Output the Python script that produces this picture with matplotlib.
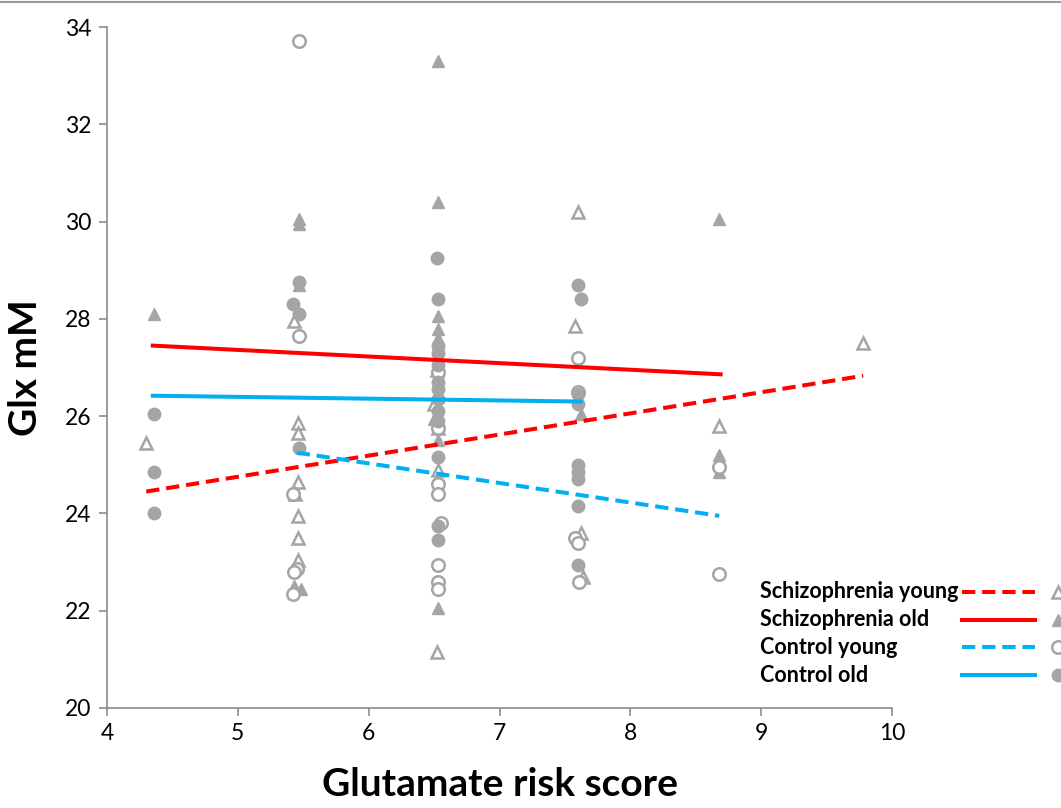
import matplotlib
matplotlib.use("Agg")
import matplotlib.pyplot as plt
from matplotlib.lines import Line2D

# ---- data ----
sz_young_x = [4.30, 5.43, 5.46, 5.46, 5.46, 5.44, 5.46, 5.46, 5.46,
              6.52, 6.50, 6.53, 6.53, 6.52, 7.60, 7.58, 7.62, 7.64, 8.68, 9.78]
sz_young_y = [25.45, 27.95, 25.85, 25.65, 24.65, 24.40, 23.95, 23.50, 23.05,
              26.95, 26.25, 25.75, 24.90, 21.15, 30.20, 27.85, 23.60, 22.70, 25.80, 27.50]

sz_old_x = [4.36, 5.47, 5.47, 5.47, 5.43, 5.48,
            6.53, 6.53, 6.53, 6.53, 6.53, 6.53, 6.50, 6.53, 6.53,
            7.62, 8.68, 8.68, 8.68]
sz_old_y = [28.10, 30.05, 29.95, 28.70, 22.50, 22.45,
            33.30, 30.40, 28.05, 27.80, 27.60, 26.40, 25.95, 25.50, 22.05,
            26.05, 30.05, 25.20, 24.85]

ctrl_young_x = [5.47, 5.47, 5.42, 5.45, 5.43, 5.42,
                6.53, 6.53, 6.53, 6.53, 6.55, 6.53, 6.53, 6.53,
                7.60, 7.60, 7.58, 7.60, 7.61, 8.68, 8.68]
ctrl_young_y = [33.72, 27.65, 24.40, 22.85, 22.80, 22.35,
                26.90, 25.75, 24.60, 24.40, 23.80, 22.95, 22.60, 22.45,
                27.20, 26.50, 23.50, 23.40, 22.60, 24.95, 22.75]

ctrl_old_x = [4.36, 4.36, 4.36,
              5.47, 5.42, 5.47, 5.47,
              6.52, 6.53, 6.53, 6.53, 6.53, 6.53, 6.53, 6.53, 6.53, 6.53, 6.53, 6.53, 6.53,
              7.60, 7.62, 7.60, 7.60, 7.60, 7.60, 7.60, 7.60, 7.60]
ctrl_old_y = [26.05, 24.85, 24.00,
              28.75, 28.30, 28.10, 25.35,
              29.25, 28.40, 27.45, 27.30, 27.05, 26.70, 26.55, 26.35, 26.10, 25.90, 25.15, 23.75, 23.45,
              28.70, 28.40, 26.45, 26.25, 25.00, 24.85, 24.70, 24.15, 22.95]

# trend lines (end points)
sz_young_fit_x = [4.30, 9.78]
sz_young_fit_y = [24.45, 26.83]
sz_old_fit_x = [4.35, 8.69]
sz_old_fit_y = [27.45, 26.86]
ctrl_young_fit_x = [5.45, 8.68]
ctrl_young_fit_y = [25.25, 23.95]
ctrl_old_fit_x = [4.35, 7.62]
ctrl_old_fit_y = [26.42, 26.30]

legend_labels = ["Schizophrenia young", "Schizophrenia old", "Control young", "Control old"]
x_ticks = [4, 5, 6, 7, 8, 9, 10]
y_ticks = [20, 22, 24, 26, 28, 30, 32, 34]

# ---- style ----
GRAY = "#A5A5A5"
RED = "#FF0000"
BLUE = "#00B0F0"
AXC = "#8C8C8C"
FONT = "Lato"

fig = plt.figure(figsize=(10.61, 8.08), dpi=100)
ax = fig.add_axes([107/1061, 1 - 708/808, (892-107)/1061, (708-27)/808])

ms = 9
ax.plot(sz_young_x, sz_young_y, ls="none", marker="^", ms=ms, mfc="white", mec=GRAY, mew=1.8, zorder=2)
ax.plot(sz_old_x, sz_old_y, ls="none", marker="^", ms=ms, mfc=GRAY, mec=GRAY, mew=1.0, zorder=2)
ax.plot(ctrl_young_x, ctrl_young_y, ls="none", marker="o", ms=ms, mfc="white", mec=GRAY, mew=1.8, zorder=2)
ax.plot(ctrl_old_x, ctrl_old_y, ls="none", marker="o", ms=ms, mfc=GRAY, mec=GRAY, mew=1.0, zorder=2)

lw = 2.9
dash = (3.3, 1.7)
ax.plot(sz_young_fit_x, sz_young_fit_y, color=RED, lw=lw, dashes=dash, zorder=3)
ax.plot(sz_old_fit_x, sz_old_fit_y, color=RED, lw=lw, zorder=3)
ax.plot(ctrl_young_fit_x, ctrl_young_fit_y, color=BLUE, lw=lw, dashes=dash, zorder=3)
ax.plot(ctrl_old_fit_x, ctrl_old_fit_y, color=BLUE, lw=lw, zorder=3)

ax.set_xlim(4, 10)
ax.set_ylim(20, 34)
ax.set_xticks(x_ticks)
ax.set_yticks(y_ticks)
ax.set_xticklabels([str(t) for t in x_ticks], fontfamily=FONT, fontsize=16.5)
ax.set_yticklabels([str(t) for t in y_ticks], fontfamily=FONT, fontsize=16.5)
for s in ["top", "right"]:
    ax.spines[s].set_visible(False)
for s in ["left", "bottom"]:
    ax.spines[s].set_color(AXC)
    ax.spines[s].set_linewidth(1.2)
ax.tick_params(axis="both", direction="out", length=6, width=1.2, color=AXC, pad=5)

ax.set_xlabel("Glutamate risk score", fontfamily=FONT, fontsize=28, fontweight="bold", labelpad=16)
ax.set_ylabel("Glx mM", fontfamily=FONT, fontsize=28, fontweight="bold", labelpad=16)

# ---- manual legend (text, line, marker), partly cut at right edge ----
rows_y = [592, 620, 647, 675]
styles = [
    dict(color=RED, dashes=dash),
    dict(color=RED),
    dict(color=BLUE, dashes=dash),
    dict(color=BLUE),
]
mk = [
    dict(marker="^", mfc="white", mec=GRAY, mew=1.8),
    dict(marker="^", mfc=GRAY, mec=GRAY),
    dict(marker="o", mfc="white", mec=GRAY, mew=1.8),
    dict(marker="o", mfc=GRAY, mec=GRAY),
]
W, H = 1061.0, 808.0
for lab, yy, st, m in zip(legend_labels, rows_y, styles, mk):
    fy = 1 - yy / H
    fig.text(760 / W, fy, lab, fontfamily=FONT, fontsize=15.5, fontweight="bold",
             ha="left", va="center", color="black")
    fig.add_artist(Line2D([962 / W, 1035 / W], [fy, fy], transform=fig.transFigure, lw=lw, **st))
    fig.add_artist(Line2D([1058 / W], [fy], transform=fig.transFigure, ls="none", ms=ms, **m))

# thin grey border line at top of figure
fig.add_artist(Line2D([0, 1], [0.998, 0.998], transform=fig.transFigure, color="#9A9A9A", lw=1.5))

fig.savefig("out.png", dpi=100)
